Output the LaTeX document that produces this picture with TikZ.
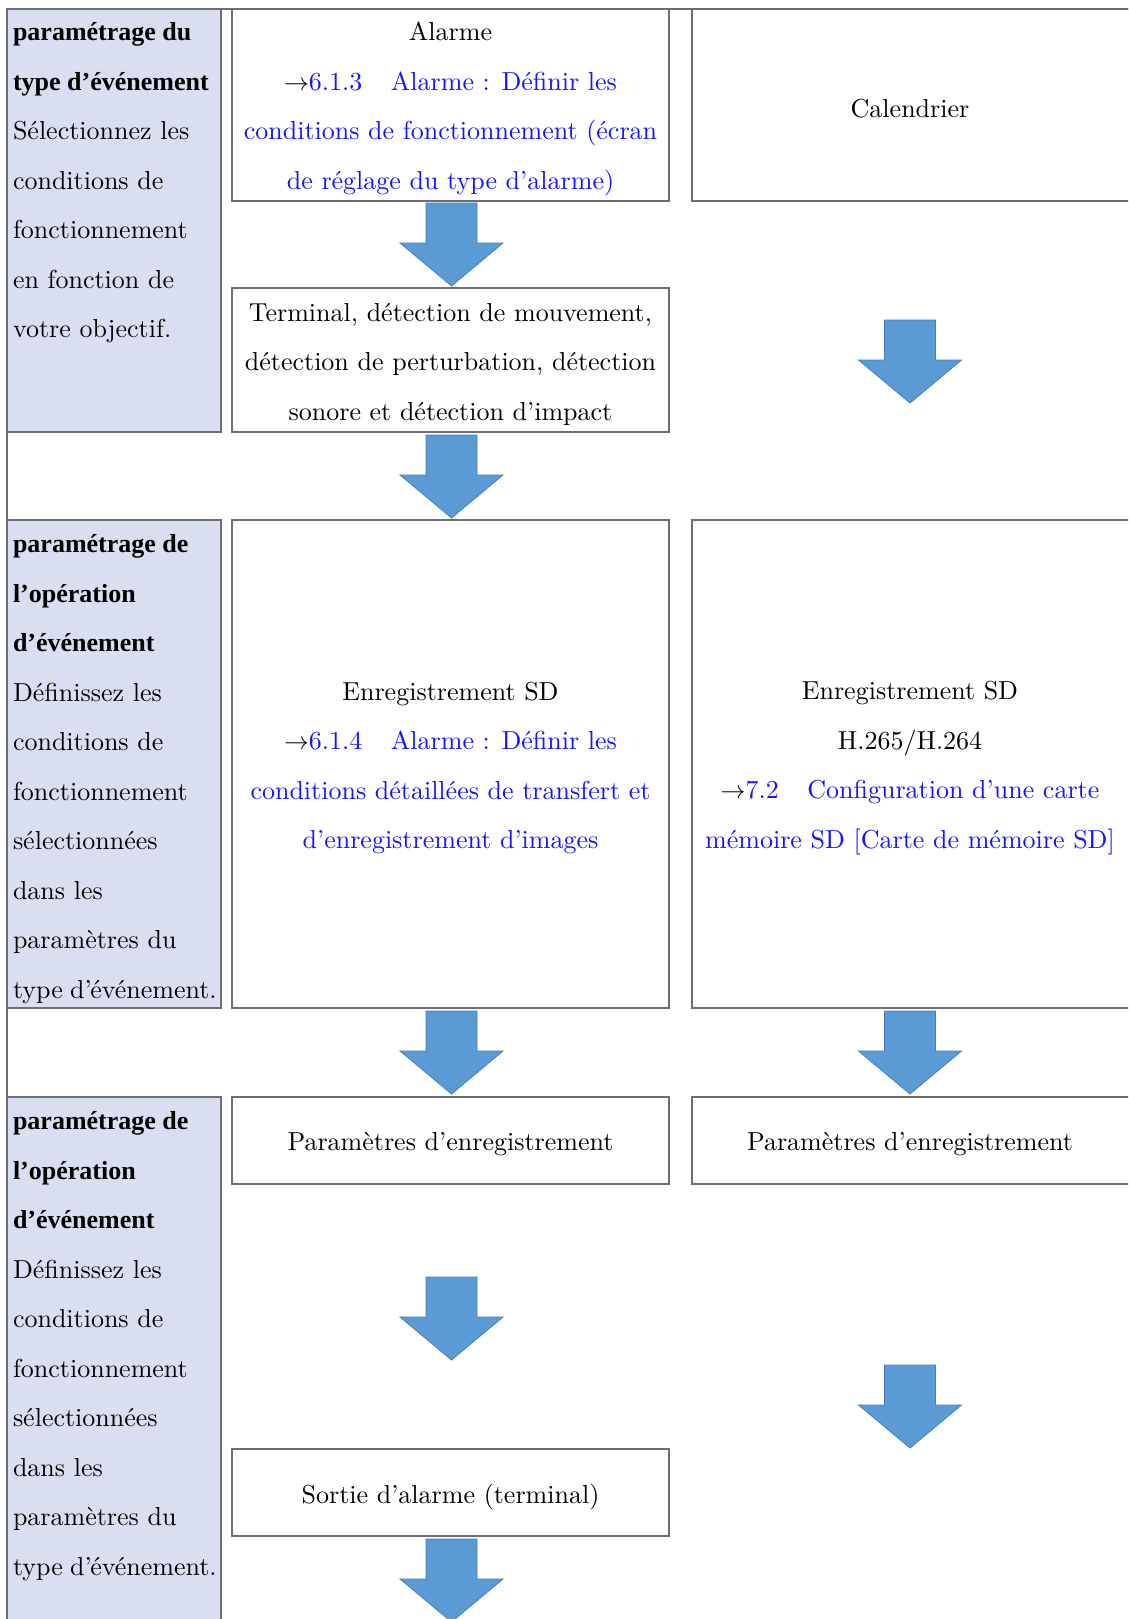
\documentclass[tikz,border=0pt]{standalone}
\usepackage{fontspec}
\setmainfont{lmroman10-regular.otf}[BoldFont=lmroman10-bold.otf]
\newfontfamily\hdfont{Liberation Serif}
\usetikzlibrary{calc}
\definecolor{panelfill}{RGB}{217,223,241}
\definecolor{bordergray}{RGB}{110,110,110}
\definecolor{lnk}{RGB}{20,20,255}
\definecolor{arrfill}{RGB}{91,155,213}
\definecolor{arredge}{RGB}{74,126,187}
\newcommand\lk[1]{\textcolor{lnk}{#1}}
\newcommand\hd[1]{{\hdfont\bfseries #1}}
\newcommand\ra{$\rightarrow$}
\begin{document}
\begin{tikzpicture}[x=1pt,y=-1pt,
  every node/.style={inner sep=0pt, outer sep=0pt, font=\fontsize{26}{49.5}\selectfont},
  box/.style={draw=bordergray, line width=1.3pt, fill=white},
  colbox/.style={box, minimum width=437pt},
  rbox/.style={box, minimum width=438pt},
  txt/.style={align=center},
  panel/.style={draw=bordergray, line width=1.3pt, fill=panelfill, minimum width=214pt},
  side/.style={anchor=west, align=left},
  dnarrow/.pic={\filldraw[fill=arrfill, draw=arredge, line width=0.8pt, line join=miter]
     (-25.5,0) -- (25.5,0) -- (25.5,40) -- (51.5,40) -- (0,83) -- (-51.5,40) -- (-25.5,40) -- cycle;}
]
\clip (0,0) rectangle (1128,1619);
\fill[white] (0,0) rectangle (1128,1619);

% shaded panels of the left column
\node[panel, minimum height=423pt] (P1) at (114,220.5) {};
\node[panel, minimum height=488pt] (P2) at (114,764) {};
\node[panel, minimum height=540pt] (P3) at (114,1367) {};
% table frame
\draw[draw=bordergray, line width=1.3pt] (1132,9) -- (7,9) -- (7,1625);

% row 1
\node[colbox, minimum height=192pt] (A) at (450.5,105) {};
\node[txt] (At) at ($(A.center)+(0,4)$)
  {Alarme\\\ra\lk{6.1.3\hspace{1.1em}Alarme : Définir les}\\\lk{conditions de fonctionnement (écran}\\\lk{de réglage du type d’alarme)}};
\node[rbox, minimum height=192pt] (Cal) at (911,105) {};
\node[txt] (Calt) at ($(Cal.center)+(-1,4)$) {Calendrier};
\pic at ($(A.south)+(1,2)$) {dnarrow};
\node[colbox, minimum height=144pt] (B) at (450.5,360) {};
\node[txt] (Bt) at ($(B.center)+(0,4)$)
  {Terminal, détection de mouvement,\\détection de perturbation, détection\\sonore et détection d’impact};
\pic at (910,320) {dnarrow};
\pic at ($(B.south)+(1,3)$) {dnarrow};

% row 2
\node[colbox, minimum height=488pt] (C) at (450.5,764) {};
\node[txt] (Ct) at ($(C.center)+(0,4)$)
  {Enregistrement SD\\\ra\lk{6.1.4\hspace{1.1em}Alarme : Définir les}\\\lk{conditions détaillées de transfert et}\\\lk{d’enregistrement d’images}};
\node[rbox, minimum height=488pt] (D) at (911,764) {};
\node[txt] (Dt) at ($(D.center)+(-1,4)$)
  {Enregistrement SD\\H.265/H.264\\\ra\lk{7.2\hspace{1.1em}Configuration d’une carte}\\\lk{mémoire SD [Carte de mémoire SD]}};
\pic at ($(C.south)+(1,3)$) {dnarrow};
\pic at ($(D.south)+(-1,3)$) {dnarrow};

% row 3
\node[colbox, minimum height=87pt] (E) at (450.5,1140.5) {};
\node[txt] (Et) at ($(E.center)+(0,4)$) {Paramètres d’enregistrement};
\node[rbox, minimum height=87pt] (F) at (911,1140.5) {};
\node[txt] (Ft) at ($(F.center)+(-1,4)$) {Paramètres d’enregistrement};
\pic at (451.5,1277) {dnarrow};
\pic at (910,1365) {dnarrow};
\node[colbox, minimum height=87pt] (G) at (450.5,1492.5) {};
\node[txt] (Gt) at ($(G.center)+(0,4)$) {Sortie d’alarme (terminal)};
\pic at ($(G.south)+(1,3)$) {dnarrow};

% left column texts
\node[side] (T1) at (13,183)
  {\hd{paramétrage du}\\\hd{type d’événement}\\Sélectionnez les\\conditions de\\fonctionnement\\en fonction de\\votre objectif.};
\node[side] (T2) at (13,769)
  {\hd{paramétrage de}\\\hd{l’opération}\\\hd{d’événement}\\Définissez les\\conditions de\\fonctionnement\\sélectionnées\\dans les\\paramètres du\\{\spaceskip=0.28em type d’\kern-1.5ptévénement.}};
\node[side] (T3) at (13,1346)
  {\hd{paramétrage de}\\\hd{l’opération}\\\hd{d’événement}\\Définissez les\\conditions de\\fonctionnement\\sélectionnées\\dans les\\paramètres du\\{\spaceskip=0.28em type d’\kern-1.5ptévénement.}};
\end{tikzpicture}
\end{document}
